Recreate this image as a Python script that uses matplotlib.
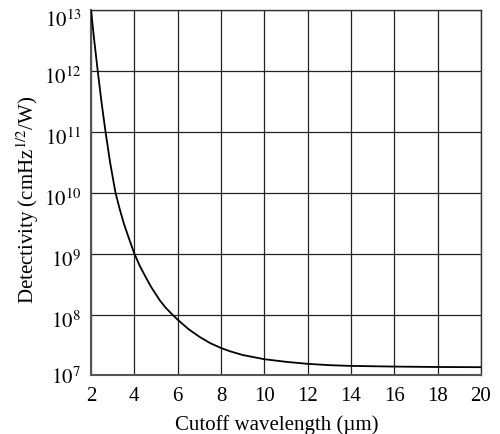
import numpy as np
import matplotlib
matplotlib.use('Agg')
import matplotlib.pyplot as plt
import matplotlib.transforms as mtransforms
from matplotlib.ticker import FixedLocator, FixedFormatter

plt.rcParams['font.family'] = ['Liberation Serif', 'DejaVu Serif']
plt.rcParams['mathtext.fontset'] = 'stix'

# cutoff wavelength (um) and log10 of detectivity
wavelength = [2.0, 2.15, 2.31, 2.48, 2.67, 2.88, 3.13, 3.31, 3.51, 3.75, 4.0,
              4.25, 4.5, 4.77, 5.18, 5.45, 5.75, 6.0, 6.5, 7.0, 7.5, 8.0,
              8.41, 9.0, 10.0, 11.0, 12.0, 13.0, 14.0, 16.0, 18.0, 20.0]
log_detect = [13.0, 12.5, 12.0, 11.5, 11.0, 10.5, 10.0, 9.75, 9.5, 9.25, 9.0,
              8.80, 8.63, 8.455, 8.23, 8.11, 8.0, 7.915, 7.76, 7.635, 7.53, 7.45,
              7.397, 7.335, 7.266, 7.223, 7.19, 7.168, 7.156, 7.145, 7.138, 7.135]
detect = [10 ** v for v in log_detect]

x_ticks = [2, 4, 6, 8, 10, 12, 14, 16, 18, 20]
y_exps = [7, 8, 9, 10, 11, 12, 13]

fig = plt.figure(figsize=(5.0, 4.34), dpi=100)
ax = fig.add_axes([0.182, 0.135, 0.780, 0.842])

ax.plot(wavelength, detect, color='black', lw=1.3, zorder=3)

ax.set_yscale('log')
ax.set_xlim(2, 20)
ax.set_ylim(1e7, 1e13)

ax.xaxis.set_major_locator(FixedLocator(x_ticks))
ax.xaxis.set_major_formatter(FixedFormatter([str(t) for t in x_ticks]))
ax.yaxis.set_major_locator(FixedLocator([10.0 ** e for e in y_exps]))
ax.yaxis.set_major_formatter(FixedFormatter(['$10^{%d}$' % e for e in y_exps]))
ax.yaxis.set_minor_locator(FixedLocator([]))

ax.grid(True, which='major', color='#222222', lw=0.9)
ax.tick_params(length=0, labelsize=15)
ax.tick_params(axis='x', pad=8)
ax.tick_params(axis='y', pad=7)

# the y labels sit a little below their grid lines in the original
for i, lab in enumerate(ax.get_yticklabels()):
    shift = 0 if i == 0 else (9 if i == len(y_exps) - 1 else 5)
    off = mtransforms.ScaledTranslation(0, -shift / 100.0, fig.dpi_scale_trans)
    lab.set_transform(lab.get_transform() + off)

for s in ['left', 'bottom']:
    ax.spines[s].set_color('#555555')
    ax.spines[s].set_linewidth(1.5)
for s in ['top', 'right']:
    ax.spines[s].set_color('#333333')
    ax.spines[s].set_linewidth(1.0)

ax.set_xlabel('Cutoff wavelength (\u00b5m)', fontsize=15)
ax.set_ylabel('Detectivity (cmHz$^{1/2}$/W)', fontsize=15)
ax.xaxis.set_label_coords(0.477, -0.108)
ax.yaxis.set_label_coords(-0.127, 0.48)

fig.savefig('out.png', dpi=100)
